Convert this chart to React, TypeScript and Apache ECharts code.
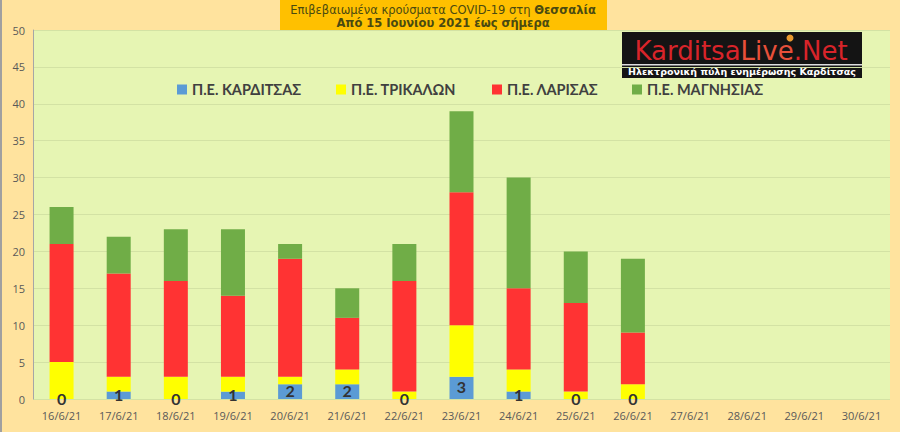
import React, { useEffect, useRef } from "react";
import * as echarts from "echarts";

const categories = ["16/6/21","17/6/21","18/6/21","19/6/21","20/6/21","21/6/21","22/6/21","23/6/21","24/6/21","25/6/21","26/6/21","27/6/21","28/6/21","29/6/21","30/6/21"];
const karditsa = [0, 1, 0, 1, 2, 2, 0, 3, 1, 0, 0, null, null, null, null];
const trikala = [5, 2, 3, 2, 1, 2, 1, 7, 3, 1, 2, null, null, null, null];
const larisa = [16, 14, 13, 11, 16, 7, 15, 18, 11, 12, 7, null, null, null, null];
const magnisia = [5, 5, 7, 9, 2, 4, 5, 11, 15, 7, 10, null, null, null, null];
const seriesNames = ["Π.Ε. ΚΑΡΔΙΤΣΑΣ", "Π.Ε. ΤΡΙΚΑΛΩΝ", "Π.Ε. ΛΑΡΙΣΑΣ", "Π.Ε. ΜΑΓΝΗΣΙΑΣ"];
const seriesColors = ["#5B9BD5", "#FFFF00", "#FF3333", "#70AD47"];
const legendLefts = [172, 331, 487, 627];

export default function App() {
  const ref = useRef<HTMLDivElement>(null);
  useEffect(() => {
    document.body.style.margin = "0";
    const chart = echarts.init(ref.current!, null, { renderer: "svg" });
    const data = [karditsa, trikala, larisa, magnisia];
    const legendFont = "Lato, 'Open Sans', sans-serif";
    chart.setOption({
      animation: false,
      backgroundColor: "#FFE39E",
      grid: { left: 33, right: 10, top: 30, bottom: 33, backgroundColor: "#E6F5B3", show: true, borderWidth: 0 },
      legend: seriesNames.map((n, i) => ({
        data: [n],
        left: legendLefts[i],
        top: 77,
        icon: "rect",
        itemWidth: 10,
        itemHeight: 10,
        itemGap: 4,
        textStyle: { fontFamily: legendFont, fontSize: 14.5, fontWeight: "bold", color: "#404040" },
      })),
      xAxis: {
        type: "category",
        data: categories,
        axisLine: { show: false },
        axisTick: { show: false },
        axisLabel: { color: "#595959", fontSize: 11, margin: 10, lineHeight: 12, fontFamily: "'Open Sans', sans-serif" },
      },
      yAxis: {
        type: "value",
        min: 0,
        max: 50,
        interval: 5,
        axisLine: { show: true, lineStyle: { color: "#A6A6A6", width: 1 } },
        axisTick: { show: false },
        axisLabel: { color: "#595959", fontSize: 11, margin: 8, fontFamily: "'Open Sans', sans-serif" },
        splitLine: { lineStyle: { color: "#D3E2A4", width: 1 } },
      },
      series: seriesNames.map((n, i) => ({
        name: n,
        type: "bar",
        stack: "total",
        barWidth: "42%",
        data: data[i],
        itemStyle: { color: seriesColors[i] },
        label: i === 0
          ? {
              show: true,
              position: "inside",
              formatter: (p: any) => (p.value == null ? "" : String(p.value)),
              fontSize: 16,
              lineHeight: 13,
              offset: [0, -1],
              fontWeight: "bold",
              color: "#333333",
              fontFamily: legendFont,
            }
          : { show: false },
      })),
      graphic: [
        { type: "rect", left: 0, top: 0, shape: { width: 2, height: 432 }, style: { fill: "#A0A0A0" } },
        { type: "rect", left: 280, top: 0, shape: { width: 327, height: 31 }, style: { fill: "#FFC000" } },
        {
          type: "text",
          x: 443,
          y: 10,
          style: {
            text: "{n|Επιβεβαιωμένα κρούσματα COVID-19 στη }{b|Θεσσαλία}",
            align: "center",
            verticalAlign: "middle",
            rich: {
              n: { fontFamily: "'DejaVu Sans', sans-serif", fontSize: 11.5, fill: "#4A4A10", color: "#4A4A10" },
              b: { fontFamily: "'DejaVu Sans', sans-serif", fontSize: 11.5, fontWeight: "bold", fill: "#4A4A10", color: "#4A4A10" },
            },
          },
        },
        {
          type: "text",
          x: 443,
          y: 23,
          style: {
            text: "Από 15 Ιουνίου 2021 έως σήμερα",
            align: "center",
            verticalAlign: "middle",
            fontFamily: "'DejaVu Sans', sans-serif",
            fontSize: 11.5,
            fontWeight: "bold",
            fill: "#4A4A10",
          },
        },
        { type: "rect", left: 622, top: 32, shape: { width: 240, height: 46 }, style: { fill: "#141414" } },
        { type: "rect", left: 622, top: 64, shape: { width: 240, height: 1.5 }, style: { fill: "#DDDDDD" } },
        {
          type: "text",
          x: 741,
          y: 51,
          style: {
            text: "{a|Karditsa}{b|Live}{a|.Net}",
            align: "center",
            verticalAlign: "middle",
            rich: {
              a: { fontFamily: "'DejaVu Sans', sans-serif", fontSize: 26, fill: "#D8242A", color: "#D8242A" },
              b: { fontFamily: "'DejaVu Sans', sans-serif", fontSize: 26, fill: "#E8503A", color: "#E8503A" },
            },
          },
        },
        { type: "circle", shape: { cx: 790, cy: 38, r: 3.5 }, style: { fill: "#E89A30" } },
        {
          type: "text",
          x: 742,
          y: 71,
          style: {
            text: "Ηλεκτρονική πύλη ενημέρωσης Καρδίτσας",
            align: "center",
            verticalAlign: "middle",
            fontFamily: "'DejaVu Sans', sans-serif",
            fontSize: 9.5,
            fontWeight: "bold",
            fill: "#FFFFFF",
          },
        },
      ],
    });
    return () => chart.dispose();
  }, []);
  return <div ref={ref} style={{ width: 900, height: 432 }} />;
}
